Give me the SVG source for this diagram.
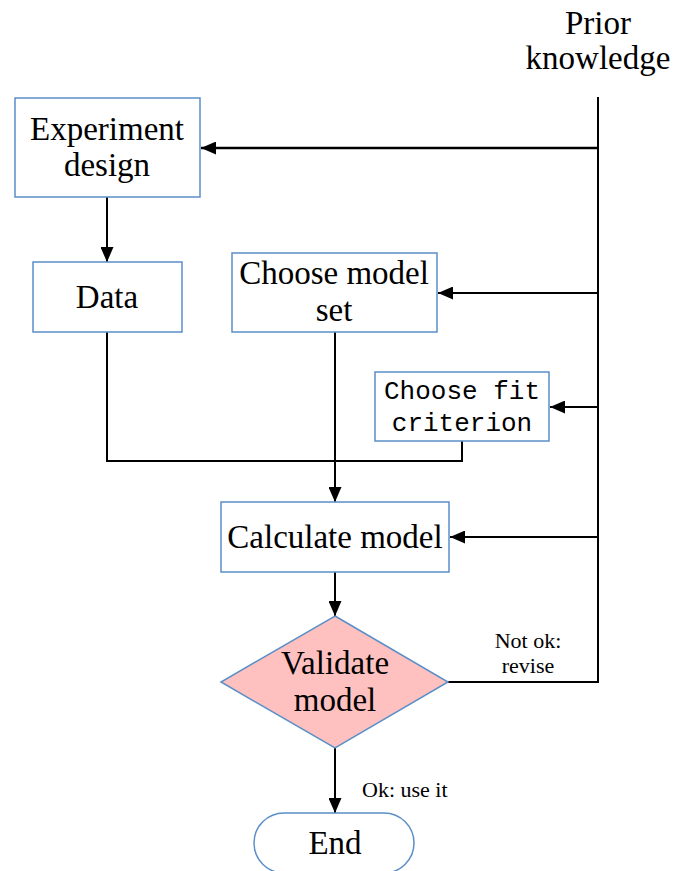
<svg xmlns="http://www.w3.org/2000/svg" width="675" height="871" viewBox="0 0 675 871">
  <style>
    .box { fill: #ffffff; stroke: #5a8fc8; stroke-width: 1.5; }
    .dec { fill: #ffc0c0; stroke: #5a8fc8; stroke-width: 1.5; }
    .lbl { font-family: "Liberation Serif", "Times New Roman", serif; font-size: 33px; fill: #000; text-anchor: middle; }
    .mono { font-family: "Liberation Mono", "Courier New", monospace; font-size: 26px; fill: #000; text-anchor: middle; }
    .small { font-family: "Liberation Serif", "Times New Roman", serif; font-size: 22px; fill: #000; }
    .wire { fill: none; stroke: #000; stroke-width: 2; }
    .arrow { fill: none; stroke: #000; stroke-width: 2; marker-end: url(#head); }
  </style>
  <defs>
    <marker id="head" viewBox="0 0 15 13" refX="15" refY="6.5" markerWidth="15" markerHeight="13" markerUnits="userSpaceOnUse" orient="auto">
      <path d="M0,0 L15,6.5 L0,13 z" fill="#000"/>
    </marker>
  </defs>

  <rect width="675" height="871" fill="#ffffff"/>

  <!-- connectors -->
  <g id="connectors">
    <!-- prior knowledge trunk -->
    <path class="wire" d="M598,97 V683"/>
    <path class="arrow" d="M598,148 H201" style="stroke-width:2.5"/>
    <path class="arrow" d="M598,293 H438"/>
    <path class="arrow" d="M598,407 H550"/>
    <path class="arrow" d="M598,537 H450"/>
    <!-- revise loop from the decision -->
    <path class="wire" d="M447,682 H598"/>
    <!-- design to data -->
    <path class="arrow" d="M107,197 V262"/>
    <!-- data and fit criterion join the model set line -->
    <path class="wire" d="M107,332 V461 H462 V441"/>
    <path class="arrow" d="M335,332 V502"/>
    <!-- calculate to validate -->
    <path class="arrow" d="M335,572 V616"/>
    <!-- validate to end -->
    <path class="arrow" d="M335,748 V813"/>
  </g>

  <!-- labels on connectors -->
  <g id="connector-labels">
    <text class="small" x="528" y="648" text-anchor="middle">Not ok:</text>
    <text class="small" x="528" y="673" text-anchor="middle">revise</text>
    <text class="small" x="362" y="797">Ok: use it</text>
  </g>

  <g id="prior-knowledge">
    <text class="lbl" x="598" y="34">Prior</text>
    <text class="lbl" x="598" y="69">knowledge</text>
  </g>

  <g id="experiment-design">
    <rect class="box" x="15" y="98" width="185" height="99"/>
    <text class="lbl" x="107" y="140">Experiment</text>
    <text class="lbl" x="107" y="176">design</text>
  </g>

  <g id="data">
    <rect class="box" x="33" y="262" width="149" height="70"/>
    <text class="lbl" x="107" y="308">Data</text>
  </g>

  <g id="choose-model-set">
    <rect class="box" x="232" y="253" width="205" height="79"/>
    <text class="lbl" x="334" y="284">Choose model</text>
    <text class="lbl" x="334" y="321">set</text>
  </g>

  <g id="choose-fit-criterion">
    <rect class="box" x="375" y="372" width="174" height="69"/>
    <text class="mono" x="462" y="399">Choose fit</text>
    <text class="mono" x="462" y="431">criterion</text>
  </g>

  <g id="calculate-model">
    <rect class="box" x="221" y="502" width="228" height="70"/>
    <text class="lbl" x="335" y="548">Calculate model</text>
  </g>

  <g id="validate-model">
    <polygon class="dec" points="335,616 448,682 335,748 221,682"/>
    <text class="lbl" x="335" y="674">Validate</text>
    <text class="lbl" x="335" y="711">model</text>
  </g>

  <g id="end">
    <rect class="box" x="254" y="813" width="160" height="60" rx="30" ry="30"/>
    <text class="lbl" x="335" y="854">End</text>
  </g>
</svg>
